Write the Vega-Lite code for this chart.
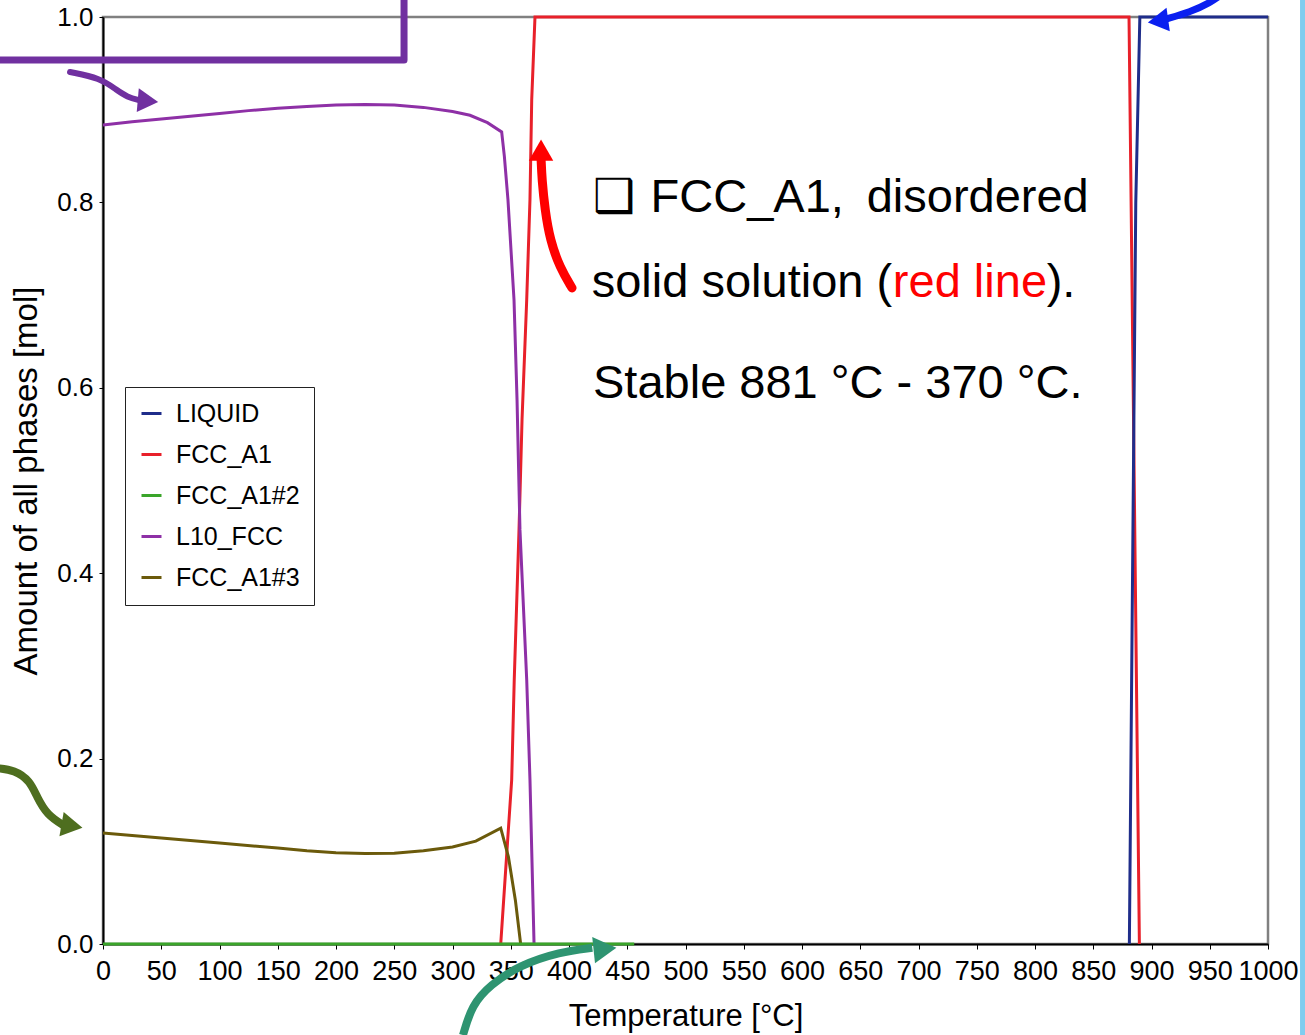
{
  "$schema": "https://vega.github.io/schema/vega-lite/v6.json",
  "width": 1165,
  "height": 927,
  "autosize": {"type": "none"},
  "padding": {"left": 103, "top": 17, "right": 37, "bottom": 91},
  "background": "white",
  "config": {
    "font": "Liberation Sans, Arial, sans-serif",
    "view": {"stroke": "#808080", "strokeWidth": 2.5}
  },
  "layer": [
    {
      "data": {"values": [
        {"x1": 1027.5, "x2": 1040, "y1": -0.15, "y2": 1.05}
      ]},
      "mark": {"type": "rect", "color": "#7fcdef", "clip": false},
      "encoding": {
        "x": {"field": "x1", "type": "quantitative", "scale": {"domain": [0, 1000], "nice": false, "zero": false}},
        "x2": {"field": "x2"},
        "y": {"field": "y1", "type": "quantitative", "scale": {"domain": [0, 1], "nice": false}},
        "y2": {"field": "y2"}
      }
    },
    {
      "data": {"values": [
        {"phase": "FCC_A1", "T": 341.4, "v": 0},
        {"phase": "FCC_A1", "T": 350.8, "v": 0.177},
        {"phase": "FCC_A1", "T": 353.0, "v": 0.285},
        {"phase": "FCC_A1", "T": 357.1, "v": 0.447},
        {"phase": "FCC_A1", "T": 359.7, "v": 0.566},
        {"phase": "FCC_A1", "T": 363.7, "v": 0.695},
        {"phase": "FCC_A1", "T": 366.5, "v": 0.803},
        {"phase": "FCC_A1", "T": 368.0, "v": 0.911},
        {"phase": "FCC_A1", "T": 370.8, "v": 1.0},
        {"phase": "FCC_A1", "T": 600, "v": 1.0},
        {"phase": "FCC_A1", "T": 880.7, "v": 1.0},
        {"phase": "FCC_A1", "T": 882.5, "v": 0.8},
        {"phase": "FCC_A1", "T": 889.6, "v": 0},
        {"phase": "L10_FCC", "T": 0, "v": 0.8835},
        {"phase": "L10_FCC", "T": 25, "v": 0.887},
        {"phase": "L10_FCC", "T": 50, "v": 0.890},
        {"phase": "L10_FCC", "T": 75, "v": 0.893},
        {"phase": "L10_FCC", "T": 100, "v": 0.896},
        {"phase": "L10_FCC", "T": 125, "v": 0.899},
        {"phase": "L10_FCC", "T": 150, "v": 0.9015},
        {"phase": "L10_FCC", "T": 175, "v": 0.9035},
        {"phase": "L10_FCC", "T": 200, "v": 0.905},
        {"phase": "L10_FCC", "T": 225, "v": 0.9055},
        {"phase": "L10_FCC", "T": 250, "v": 0.905},
        {"phase": "L10_FCC", "T": 275, "v": 0.9025},
        {"phase": "L10_FCC", "T": 300, "v": 0.898},
        {"phase": "L10_FCC", "T": 315, "v": 0.894},
        {"phase": "L10_FCC", "T": 330, "v": 0.886},
        {"phase": "L10_FCC", "T": 342.2, "v": 0.876},
        {"phase": "L10_FCC", "T": 344.5, "v": 0.850},
        {"phase": "L10_FCC", "T": 347.6, "v": 0.803},
        {"phase": "L10_FCC", "T": 352.8, "v": 0.695},
        {"phase": "L10_FCC", "T": 355.4, "v": 0.587},
        {"phase": "L10_FCC", "T": 357.9, "v": 0.447},
        {"phase": "L10_FCC", "T": 363.7, "v": 0.285},
        {"phase": "L10_FCC", "T": 366.5, "v": 0.177},
        {"phase": "L10_FCC", "T": 370.0, "v": 0},
        {"phase": "FCC_A1#3", "T": 0, "v": 0.1197},
        {"phase": "FCC_A1#3", "T": 50, "v": 0.1143},
        {"phase": "FCC_A1#3", "T": 100, "v": 0.109},
        {"phase": "FCC_A1#3", "T": 150, "v": 0.1035},
        {"phase": "FCC_A1#3", "T": 175, "v": 0.1005},
        {"phase": "FCC_A1#3", "T": 200, "v": 0.0985},
        {"phase": "FCC_A1#3", "T": 225, "v": 0.0975},
        {"phase": "FCC_A1#3", "T": 250, "v": 0.098},
        {"phase": "FCC_A1#3", "T": 275, "v": 0.1005},
        {"phase": "FCC_A1#3", "T": 300, "v": 0.1046},
        {"phase": "FCC_A1#3", "T": 320, "v": 0.111},
        {"phase": "FCC_A1#3", "T": 341.4, "v": 0.125},
        {"phase": "FCC_A1#3", "T": 348, "v": 0.094},
        {"phase": "FCC_A1#3", "T": 354, "v": 0.047},
        {"phase": "FCC_A1#3", "T": 358.5, "v": 0},
        {"phase": "LIQUID", "T": 881, "v": 0},
        {"phase": "LIQUID", "T": 886.5, "v": 0.8},
        {"phase": "LIQUID", "T": 890, "v": 1.0},
        {"phase": "LIQUID", "T": 1000, "v": 1.0},
        {"phase": "FCC_A1#2", "T": 0, "v": 0},
        {"phase": "FCC_A1#2", "T": 456, "v": 0}
      ]},
      "mark": {"type": "line", "strokeWidth": 3},
      "encoding": {
        "x": {
          "field": "T", "type": "quantitative",
          "scale": {"domain": [0, 1000], "nice": false, "zero": false},
          "axis": {
            "title": "Temperature [°C]", "format": "d",
            "values": [0,50,100,150,200,250,300,350,400,450,500,550,600,650,700,750,800,850,900,950,1000],
            "grid": false, "labelFontSize": 27, "titleFontSize": 31, "titleFontWeight": "normal",
            "labelColor": "black", "titleColor": "black", "labelFlush": false, "labelOverlap": false,
            "domainColor": "black", "domainWidth": 2, "tickColor": "black", "tickSize": 5,
            "labelPadding": 9, "titlePadding": 17
          }
        },
        "y": {
          "field": "v", "type": "quantitative",
          "scale": {"domain": [0, 1], "nice": false},
          "axis": {
            "title": "Amount of all phases [mol]",
            "values": [0, 0.2, 0.4, 0.6, 0.8, 1.0], "format": ".1f",
            "grid": false, "labelFontSize": 26, "titleFontSize": 33, "titleFontWeight": "normal",
            "labelColor": "black", "titleColor": "black", "labelFlush": false,
            "domainColor": "black", "domainWidth": 2, "tickColor": "black", "tickSize": 4,
            "labelPadding": 6, "titlePadding": 13
          }
        },
        "color": {
          "field": "phase", "type": "nominal",
          "scale": {
            "domain": ["LIQUID", "FCC_A1", "FCC_A1#2", "L10_FCC", "FCC_A1#3"],
            "range": ["#1f2d8a", "#e8202a", "#3aa52a", "#8e30a6", "#6b5a0b"]
          },
          "legend": {
            "title": null, "orient": "none", "legendX": 22, "legendY": 370,
            "symbolType": "stroke", "symbolSize": 400, "symbolStrokeWidth": 3,
            "labelFontSize": 25, "labelColor": "black", "labelOffset": 12,
            "rowPadding": 15, "padding": 14, "strokeColor": "#222222", "fillColor": "white",
            "labelLimit": 300
          }
        }
      }
    },
    {
      "data": {"values": [
        {"arrow": "box", "T": -95, "v": 0.9536},
        {"arrow": "box", "T": 258.4, "v": 0.9536},
        {"arrow": "box", "T": 258.4, "v": 1.03}
      ]},
      "mark": {"type": "line", "color": "#7030a0", "strokeWidth": 7, "clip": false, "strokeJoin": "round"},
      "encoding": {
        "x": {"field": "T", "type": "quantitative", "sort": null},
        "y": {"field": "v", "type": "quantitative"},
        "order": {"value": 0}
      }
    },
    {
      "data": {"values": [
        {"T": -28.3, "v": 0.9407},
        {"T": -2.6, "v": 0.9342},
        {"T": 12.0, "v": 0.9212},
        {"T": 20.6, "v": 0.9137},
        {"T": 32.0, "v": 0.9100}
      ]},
      "mark": {"type": "line", "color": "#7030a0", "strokeWidth": 6, "clip": false, "interpolate": "basis", "strokeCap": "round"},
      "encoding": {
        "x": {"field": "T", "type": "quantitative"},
        "y": {"field": "v", "type": "quantitative"}
      }
    },
    {
      "data": {"values": [{"T": 38.6, "v": 0.9094}]},
      "mark": {"type": "point", "shape": "triangle-right", "filled": true, "opacity": 1, "color": "#7030a0", "size": 560, "angle": 5, "clip": false},
      "encoding": {
        "x": {"field": "T", "type": "quantitative"},
        "y": {"field": "v", "type": "quantitative"}
      }
    },
    {
      "data": {"values": [
        {"T": 402.6, "v": 0.7077},
        {"T": 392.3, "v": 0.7292},
        {"T": 383.7, "v": 0.7594},
        {"T": 379.4, "v": 0.7918},
        {"T": 376.8, "v": 0.8242},
        {"T": 376.0, "v": 0.8479}
      ]},
      "mark": {"type": "line", "color": "#ff0000", "strokeWidth": 9, "clip": false, "interpolate": "basis", "strokeCap": "round", "orient": "vertical"},
      "encoding": {
        "x": {"field": "T", "type": "quantitative"},
        "y": {"field": "v", "type": "quantitative"},
        "order": {"field": "v"}
      }
    },
    {
      "data": {"values": [{"T": 376.0, "v": 0.8565}]},
      "mark": {"type": "point", "shape": "triangle-up", "filled": true, "opacity": 1, "color": "#ff0000", "size": 600, "clip": false},
      "encoding": {
        "x": {"field": "T", "type": "quantitative"},
        "y": {"field": "v", "type": "quantitative"}
      }
    },
    {
      "data": {"values": [
        {"T": 912.4, "v": 0.9978},
        {"T": 933.0, "v": 1.0054},
        {"T": 950.2, "v": 1.0151},
        {"T": 963.1, "v": 1.027}
      ]},
      "mark": {"type": "line", "color": "#0a1ff0", "strokeWidth": 7, "clip": false, "interpolate": "basis"},
      "encoding": {
        "x": {"field": "T", "type": "quantitative"},
        "y": {"field": "v", "type": "quantitative"}
      }
    },
    {
      "data": {"values": [{"T": 905.6, "v": 0.9957}]},
      "mark": {"type": "point", "shape": "triangle-right", "filled": true, "opacity": 1, "color": "#0a1ff0", "size": 560, "angle": 172, "clip": false},
      "encoding": {
        "x": {"field": "T", "type": "quantitative"},
        "y": {"field": "v", "type": "quantitative"}
      }
    },
    {
      "data": {"values": [
        {"T": -92.7, "v": 0.1899},
        {"T": -75.5, "v": 0.1877},
        {"T": -62.7, "v": 0.1758},
        {"T": -56.7, "v": 0.1586},
        {"T": -48.1, "v": 0.1392},
        {"T": -33.0, "v": 0.1273}
      ]},
      "mark": {"type": "line", "color": "#4e6e1f", "strokeWidth": 8, "clip": false, "interpolate": "basis"},
      "encoding": {
        "x": {"field": "T", "type": "quantitative"},
        "y": {"field": "v", "type": "quantitative"}
      }
    },
    {
      "data": {"values": [{"T": -26.6, "v": 0.1273}]},
      "mark": {"type": "point", "shape": "triangle-right", "filled": true, "opacity": 1, "color": "#4e6e1f", "size": 600, "angle": 10, "clip": false},
      "encoding": {
        "x": {"field": "T", "type": "quantitative"},
        "y": {"field": "v", "type": "quantitative"}
      }
    },
    {
      "data": {"values": [
        {"T": 309.0, "v": -0.0982},
        {"T": 316.7, "v": -0.0658},
        {"T": 332.2, "v": -0.0442},
        {"T": 357.9, "v": -0.0227},
        {"T": 392.3, "v": -0.0086},
        {"T": 420.0, "v": -0.0040}
      ]},
      "mark": {"type": "line", "color": "#2e9471", "strokeWidth": 8, "clip": false, "interpolate": "basis"},
      "encoding": {
        "x": {"field": "T", "type": "quantitative"},
        "y": {"field": "v", "type": "quantitative"}
      }
    },
    {
      "data": {"values": [{"T": 430.9, "v": -0.0054}]},
      "mark": {"type": "point", "shape": "triangle-right", "filled": true, "opacity": 1, "color": "#2e9471", "size": 700, "angle": -6, "clip": false},
      "encoding": {
        "x": {"field": "T", "type": "quantitative"},
        "y": {"field": "v", "type": "quantitative"}
      }
    },
    {
      "data": {"values": [
        {"T": 420.6, "v": 0.7896, "label": "❑"},
        {"T": 470.0, "v": 0.7896, "label": "FCC_A1,"},
        {"T": 655.5, "v": 0.7896, "label": "disordered"},
        {"T": 419.5, "v": 0.698, "label": "solid solution ("},
        {"T": 810.0, "v": 0.698, "label": ")."},
        {"T": 420.6, "v": 0.589, "label": "Stable 881 °C - 370 °C."}
      ]},
      "mark": {"type": "text", "align": "left", "baseline": "alphabetic", "fontSize": 47, "color": "black"},
      "encoding": {
        "x": {"field": "T", "type": "quantitative"},
        "y": {"field": "v", "type": "quantitative"},
        "text": {"field": "label"}
      }
    },
    {
      "data": {"values": [
        {"T": 678.0, "v": 0.698, "label": "red line"}
      ]},
      "mark": {"type": "text", "align": "left", "baseline": "alphabetic", "fontSize": 47, "color": "#ff0000"},
      "encoding": {
        "x": {"field": "T", "type": "quantitative"},
        "y": {"field": "v", "type": "quantitative"},
        "text": {"field": "label"}
      }
    }
  ]
}
